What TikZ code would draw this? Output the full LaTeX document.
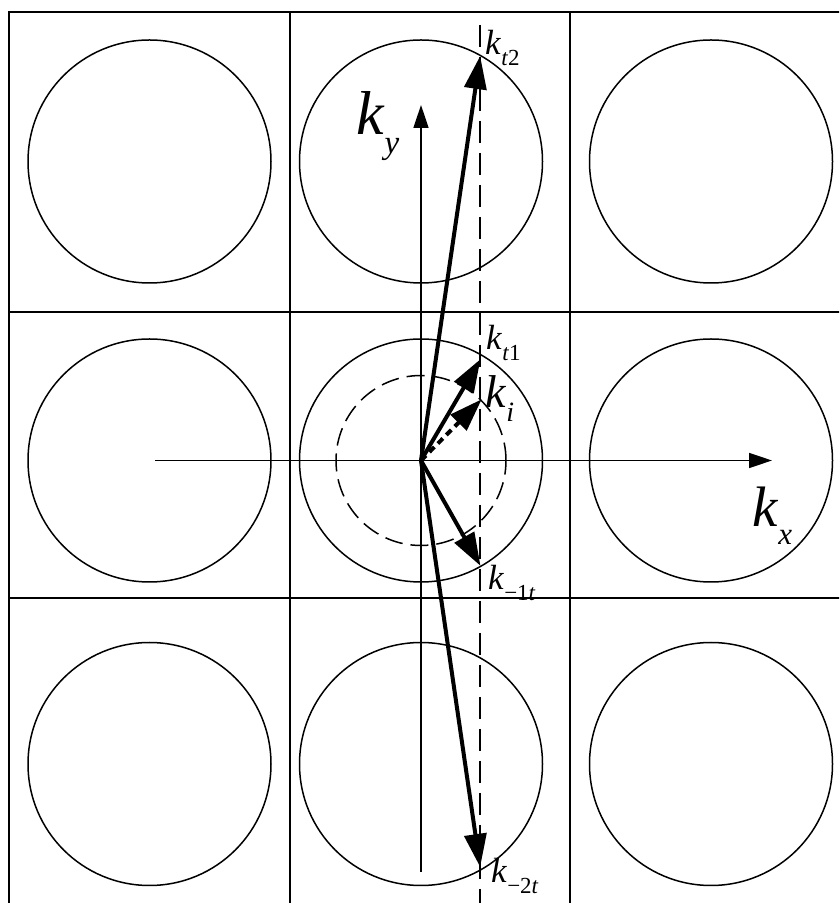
\documentclass[tikz,border=0pt]{standalone}
\usepackage{fontspec}
\setmainfont{Liberation Serif}
\usetikzlibrary{arrows.meta}
% label k with a lowered subscript: {subscript}{main size}{sub size}
\newcommand{\kvec}[3]{\fontsize{#2}{#2}\selectfont\textit{k}\raisebox{-0.3em}{\fontsize{#3}{#3}\selectfont #1}}
\begin{document}
\begin{tikzpicture}[
    x=1pt, y=1pt,
    gridline/.style={line width=2pt},
    zone/.style={line width=1.5pt},
    axis/.style={line width=1.5pt, -{Triangle[length=23pt, width=15pt]}},
    wave/.style={line width=4pt, -{Triangle[length=33pt, width=22pt]}, shorten >=-1pt},
    lab/.style={inner sep=0pt, anchor=base west}
]
\useasboundingbox (0,0) rectangle (839,903);
\clip (0,0) rectangle (839,903);

% lattice cells
\draw[gridline] (9,-10) -- (9,891) -- (860,891);
\draw[gridline] (290,-10) -- (290,891);
\draw[gridline] (570,-10) -- (570,891);
\draw[gridline] (9,591) -- (860,591);
\draw[gridline] (9,305) -- (860,305);

% Brillouin zones
\foreach \cx in {149.5, 421, 711}
  \foreach \cy in {741.5, 442.5, 139}
    \draw[zone] (\cx,\cy) circle (121.5);

% origin and wave vector tips
\coordinate (O) at (421,442.5);
\coordinate (t2) at (480,846);
\coordinate (t1) at (480,543);
\coordinate (ki) at (481,503);
\coordinate (m1) at (480,338);
\coordinate (m2) at (480,37);
\coordinate (ybot) at (421,31);
\coordinate (ytop) at (421,798);
\coordinate (xlft) at (155,442.5);
\coordinate (xrgt) at (772,442.5);
\coordinate (dtop) at (480,878);
\coordinate (dbot) at (480,-5);

% axes
\draw[axis] (ybot) -- (ytop);
\draw[axis] (xlft) -- (xrgt);

% incident circle and Bloch line
\draw[zone, dash pattern=on 18pt off 8pt] (O) circle (85);
\draw[zone, dash pattern=on 22pt off 10pt] (dtop) -- (dbot);

% wave vectors
\draw[wave] (O) -- (t2);
\draw[wave] (O) -- (t1);
\draw[wave] (O) -- (m1);
\draw[wave] (O) -- (m2);
\draw[wave, dash pattern=on 7pt off 5pt] (O) -- (ki);

% labels
\node[lab] (lt2) at (485,848) {\kvec{\textit{t}2}{35}{23}};
\node[lab] (lt1) at (486,553) {\kvec{\textit{t}1}{35}{23}};
\node[lab] (lki) at (485,495) {\kvec{\textit{i}}{46}{28}};
\node[lab] (lm1) at (488,313) {\kvec{−1\textit{t}}{35}{23}};
\node[lab] (lm2) at (491,20) {\kvec{−2\textit{t}}{35}{23}};
\node[lab] (lkx) at (752,376) {\kvec{\textit{x}}{57}{31}};
\node[lab] (lky) at (356,768) {\kvec{\textit{y}}{62}{33}};
\end{tikzpicture}
\end{document}
